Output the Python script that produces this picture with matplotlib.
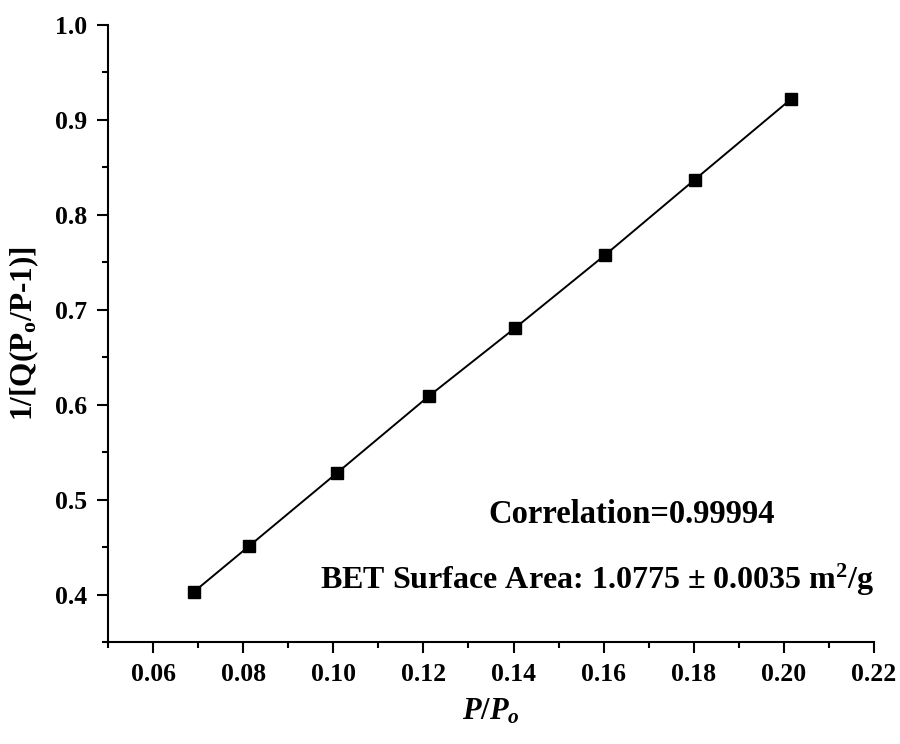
import matplotlib
matplotlib.use("Agg")
import matplotlib.pyplot as plt
from matplotlib.ticker import MultipleLocator

# BET plot data
p_ratio = [0.0691, 0.0813, 0.1008, 0.1212, 0.1404, 0.1604, 0.1802, 0.2016]
bet_y = [0.403, 0.451, 0.528, 0.609, 0.681, 0.758, 0.837, 0.922]

x_ticks = [0.06, 0.08, 0.10, 0.12, 0.14, 0.16, 0.18, 0.20, 0.22]
y_ticks = [0.4, 0.5, 0.6, 0.7, 0.8, 0.9, 1.0]

correlation_text = "Correlation=0.99994"
area_text = r"BET Surface Area: 1.0775 $\pm$ 0.0035 m$^\mathbf{2}$/g"

plt.rcParams['font.family'] = ['Liberation Serif', 'DejaVu Serif']
plt.rcParams['font.weight'] = 'bold'
plt.rcParams['mathtext.fontset'] = 'custom'
plt.rcParams['mathtext.rm'] = 'Liberation Serif:bold'
plt.rcParams['mathtext.it'] = 'Liberation Serif:italic:bold'
plt.rcParams['mathtext.bf'] = 'Liberation Serif:bold'

fig = plt.figure(figsize=(9, 7.44), dpi=100)
ax = fig.add_axes([0.12, 0.1371, 0.8511, 0.8293])

ax.plot(p_ratio, bet_y, color="black", lw=1.4, marker="s", ms=9,
        mfc="black", mec="black")

ax.set_xlim(0.05, 0.22)
ax.set_ylim(0.35, 1.0)
ax.xaxis.set_minor_locator(MultipleLocator(0.01))
ax.yaxis.set_minor_locator(MultipleLocator(0.05))
ax.set_xticks(x_ticks)
ax.set_xticklabels([f"{t:.2f}" for t in x_ticks])
ax.set_yticks(y_ticks)
ax.set_yticklabels([f"{t:.1f}" for t in y_ticks])

for s in ["top", "right"]:
    ax.spines[s].set_visible(False)
for s in ["left", "bottom"]:
    ax.spines[s].set_linewidth(1.5)

ax.tick_params(which="major", direction="out", length=8, width=1.5,
               labelsize=18.5, pad=7)
ax.tick_params(which="minor", direction="out", length=4, width=1.5)

ax.set_xlabel(r"$\mathit{P/P_o}$", fontsize=22, labelpad=8)
ax.set_ylabel(r"1/[Q(P$_\mathbf{o}$/P-1)]", fontsize=22.5, fontweight="bold", labelpad=10)

ax.text(0.684, 0.206, correlation_text, transform=ax.transAxes,
        ha="center", va="center", fontsize=23.5, fontweight="bold")
ax.text(0.277, 0.100, area_text, transform=ax.transAxes,
        ha="left", va="center", fontsize=23, fontweight="bold")

fig.savefig("out.png", dpi=100)
